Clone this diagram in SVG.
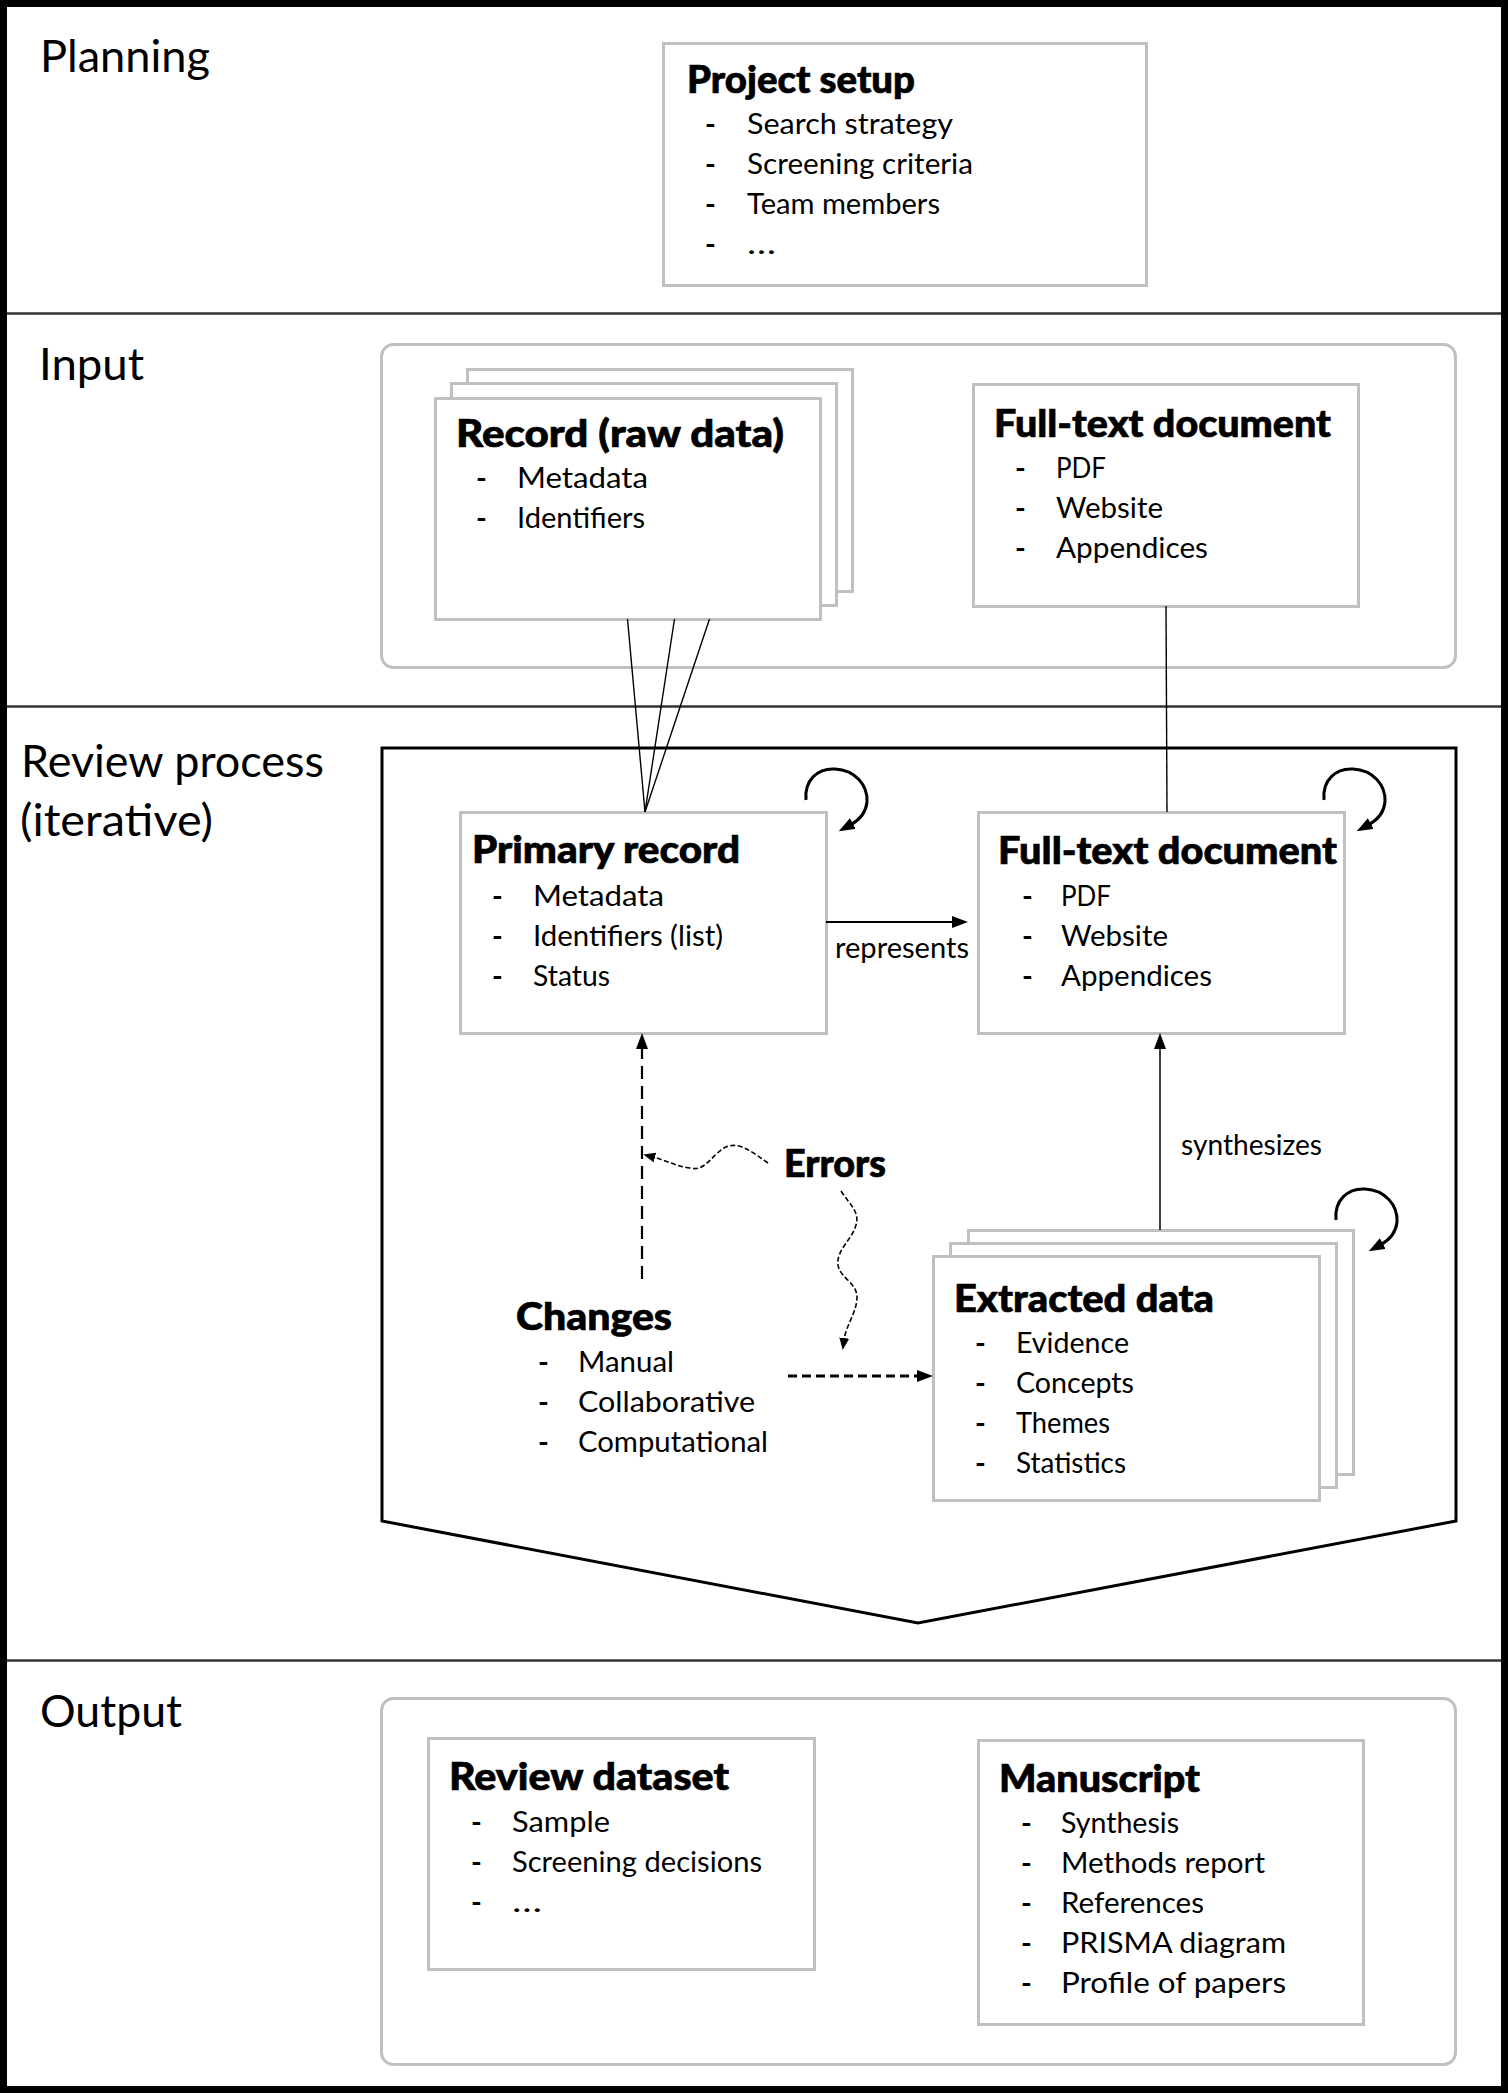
<svg xmlns="http://www.w3.org/2000/svg" width="1508" height="2093" viewBox="0 0 1508 2093">
<style>
text{font-family:Lato,"Liberation Sans",sans-serif;fill:#000}
.lbl{font-size:45px}
.ttl{font-size:38px;font-weight:900;stroke:#000;stroke-width:0.7}
.itm{font-size:29px}
.d{font-size:29px;font-weight:700}
.box{fill:#fff;stroke:#c0c0c0;stroke-width:3}
.grp{fill:none;stroke:#c0c0c0;stroke-width:3}
.sep{stroke:#333;stroke-width:2.5}
.ln{fill:none;stroke:#000;stroke-width:1.4}
.loop{fill:none;stroke:#000;stroke-width:3}
.sq{fill:none;stroke:#000;stroke-width:1.6;stroke-dasharray:5 2.5}
</style>
<defs>
<marker id="ah" markerUnits="userSpaceOnUse" markerWidth="18" markerHeight="14" refX="2" refY="6" orient="auto"><path d="M0,0 L16,6 L0,12 z" fill="#000"/></marker>
<marker id="ahs" markerUnits="userSpaceOnUse" markerWidth="14" markerHeight="12" refX="2" refY="5" orient="auto"><path d="M0,0 L12,5 L0,10 z" fill="#000"/></marker>
</defs>
<rect width="1508" height="2093" fill="#fff"/>
<g id="frame">
<rect x="3.5" y="3.5" width="1501" height="2086" fill="none" stroke="#000" stroke-width="7"/>
<line class="sep" x1="7" y1="313.5" x2="1501" y2="313.5"/>
<line class="sep" x1="7" y1="706.5" x2="1501" y2="706.5"/>
<line class="sep" x1="7" y1="1660.5" x2="1501" y2="1660.5"/>
</g>
<g id="labels">
<text class="lbl" x="40" y="72" textLength="170" lengthAdjust="spacingAndGlyphs">Planning</text>
<text class="lbl" x="39" y="380" textLength="105" lengthAdjust="spacingAndGlyphs">Input</text>
<text class="lbl" x="21" y="777" textLength="303" lengthAdjust="spacingAndGlyphs">Review process</text>
<text class="lbl" x="20" y="836" textLength="193" lengthAdjust="spacingAndGlyphs">(iterative)</text>
<text class="lbl" x="40" y="1727" textLength="142" lengthAdjust="spacingAndGlyphs">Output</text>
</g>
<g id="containers">
<rect class="grp" x="381.5" y="344.5" width="1074" height="323" rx="12"/>
<path d="M382,748 L1456,748 L1456,1521 L918,1623 L382,1521 Z" fill="none" stroke="#000" stroke-width="3"/>
<rect class="grp" x="381.5" y="1698.5" width="1074" height="366" rx="12"/>
</g>
<g id="project-setup">
<rect class="box" x="663.5" y="43.5" width="483" height="242"/>
<text class="ttl" x="687" y="93" textLength="228" lengthAdjust="spacingAndGlyphs">Project setup</text>
<text class="d" x="705" y="134">-</text><text class="itm" x="747" y="134" textLength="206" lengthAdjust="spacingAndGlyphs">Search strategy</text>
<text class="d" x="705" y="174">-</text><text class="itm" x="747" y="174" textLength="226" lengthAdjust="spacingAndGlyphs">Screening criteria</text>
<text class="d" x="705" y="214">-</text><text class="itm" x="747" y="214" textLength="193" lengthAdjust="spacingAndGlyphs">Team members</text>
<text class="d" x="705" y="254">-</text><text class="itm" x="747" y="254" textLength="29" lengthAdjust="spacingAndGlyphs">…</text>
</g>
<g id="record-raw">
<rect class="box" x="467.5" y="369.5" width="385" height="222"/>
<rect class="box" x="451.5" y="383.5" width="385" height="222"/>
<rect class="box" x="435.5" y="398.5" width="385" height="221"/>
<text class="ttl" x="456" y="447" textLength="328" lengthAdjust="spacingAndGlyphs">Record (raw data)</text>
<text class="d" x="476" y="488">-</text><text class="itm" x="517" y="488" textLength="131" lengthAdjust="spacingAndGlyphs">Metadata</text>
<text class="d" x="476" y="528">-</text><text class="itm" x="517" y="528" textLength="128" lengthAdjust="spacingAndGlyphs">Identifiers</text>
</g>
<g id="fulltext-input">
<rect class="box" x="973.5" y="384.5" width="385" height="222"/>
<text class="ttl" x="994" y="437" textLength="337" lengthAdjust="spacingAndGlyphs">Full-text document</text>
<text class="d" x="1015" y="478">-</text><text class="itm" x="1056" y="478" textLength="50" lengthAdjust="spacingAndGlyphs">PDF</text>
<text class="d" x="1015" y="518">-</text><text class="itm" x="1056" y="518" textLength="107" lengthAdjust="spacingAndGlyphs">Website</text>
<text class="d" x="1015" y="558">-</text><text class="itm" x="1056" y="558" textLength="152" lengthAdjust="spacingAndGlyphs">Appendices</text>
</g>
<g id="primary-record">
<rect class="box" x="460.5" y="812.5" width="366" height="221"/>
<text class="ttl" x="472" y="863" textLength="268" lengthAdjust="spacingAndGlyphs">Primary record</text>
<text class="d" x="492" y="906">-</text><text class="itm" x="533" y="906" textLength="131" lengthAdjust="spacingAndGlyphs">Metadata</text>
<text class="d" x="492" y="946">-</text><text class="itm" x="533" y="946" textLength="190" lengthAdjust="spacingAndGlyphs">Identifiers (list)</text>
<text class="d" x="492" y="986">-</text><text class="itm" x="533" y="986" textLength="77" lengthAdjust="spacingAndGlyphs">Status</text>
</g>
<g id="fulltext-review">
<rect class="box" x="978.5" y="812.5" width="366" height="221"/>
<text class="ttl" x="998" y="864" textLength="339" lengthAdjust="spacingAndGlyphs">Full-text document</text>
<text class="d" x="1022" y="906">-</text><text class="itm" x="1061" y="906" textLength="50" lengthAdjust="spacingAndGlyphs">PDF</text>
<text class="d" x="1022" y="946">-</text><text class="itm" x="1061" y="946" textLength="107" lengthAdjust="spacingAndGlyphs">Website</text>
<text class="d" x="1022" y="986">-</text><text class="itm" x="1061" y="986" textLength="151" lengthAdjust="spacingAndGlyphs">Appendices</text>
</g>
<g id="extracted-data">
<rect class="box" x="968.5" y="1230.5" width="385" height="244"/>
<rect class="box" x="950.5" y="1243.5" width="386" height="244"/>
<rect class="box" x="933.5" y="1256.5" width="386" height="244"/>
<text class="ttl" x="954" y="1312" textLength="260" lengthAdjust="spacingAndGlyphs">Extracted data</text>
<text class="d" x="975" y="1353">-</text><text class="itm" x="1016" y="1353" textLength="113" lengthAdjust="spacingAndGlyphs">Evidence</text>
<text class="d" x="975" y="1393">-</text><text class="itm" x="1016" y="1393" textLength="118" lengthAdjust="spacingAndGlyphs">Concepts</text>
<text class="d" x="975" y="1433">-</text><text class="itm" x="1016" y="1433" textLength="94" lengthAdjust="spacingAndGlyphs">Themes</text>
<text class="d" x="975" y="1473">-</text><text class="itm" x="1016" y="1473" textLength="110" lengthAdjust="spacingAndGlyphs">Statistics</text>
</g>
<g id="changes">
<text class="ttl" x="516" y="1330" textLength="156" lengthAdjust="spacingAndGlyphs">Changes</text>
<text class="d" x="538" y="1372">-</text><text class="itm" x="578" y="1372" textLength="96" lengthAdjust="spacingAndGlyphs">Manual</text>
<text class="d" x="538" y="1412">-</text><text class="itm" x="578" y="1412" textLength="177" lengthAdjust="spacingAndGlyphs">Collaborative</text>
<text class="d" x="538" y="1452">-</text><text class="itm" x="578" y="1452" textLength="190" lengthAdjust="spacingAndGlyphs">Computational</text>
</g>
<g id="errors">
<text class="ttl" x="784" y="1177" textLength="102" lengthAdjust="spacingAndGlyphs">Errors</text>
</g>
<g id="review-dataset">
<rect class="box" x="428.5" y="1738.5" width="386" height="231"/>
<text class="ttl" x="449" y="1790" textLength="280" lengthAdjust="spacingAndGlyphs">Review dataset</text>
<text class="d" x="471" y="1832">-</text><text class="itm" x="512" y="1832" textLength="98" lengthAdjust="spacingAndGlyphs">Sample</text>
<text class="d" x="471" y="1872">-</text><text class="itm" x="512" y="1872" textLength="250" lengthAdjust="spacingAndGlyphs">Screening decisions</text>
<text class="d" x="471" y="1912">-</text><text class="itm" x="512" y="1912" textLength="30" lengthAdjust="spacingAndGlyphs">…</text>
</g>
<g id="manuscript">
<rect class="box" x="978.5" y="1740.5" width="385" height="284"/>
<text class="ttl" x="999" y="1792" textLength="201" lengthAdjust="spacingAndGlyphs">Manuscript</text>
<text class="d" x="1021" y="1833">-</text><text class="itm" x="1061" y="1833" textLength="118" lengthAdjust="spacingAndGlyphs">Synthesis</text>
<text class="d" x="1021" y="1873">-</text><text class="itm" x="1061" y="1873" textLength="204" lengthAdjust="spacingAndGlyphs">Methods report</text>
<text class="d" x="1021" y="1913">-</text><text class="itm" x="1061" y="1913" textLength="143" lengthAdjust="spacingAndGlyphs">References</text>
<text class="d" x="1021" y="1953">-</text><text class="itm" x="1061" y="1953" textLength="225" lengthAdjust="spacingAndGlyphs">PRISMA diagram</text>
<text class="d" x="1021" y="1993">-</text><text class="itm" x="1061" y="1993" textLength="225" lengthAdjust="spacingAndGlyphs">Profile of papers</text>
</g>
<g id="connectors">
<line class="ln" x1="627.5" y1="619" x2="645" y2="812"/>
<line class="ln" x1="674.5" y1="619" x2="645" y2="812"/>
<line class="ln" x1="709.5" y1="619" x2="645" y2="812"/>
<line class="ln" x1="1166" y1="606" x2="1167" y2="812"/>
<line x1="826" y1="922" x2="954" y2="922" stroke="#000" stroke-width="2" marker-end="url(#ah)"/>
<text class="itm" x="835" y="958" textLength="134" lengthAdjust="spacingAndGlyphs">represents</text>
<line x1="1160" y1="1230" x2="1160" y2="1047" stroke="#000" stroke-width="1.5" marker-end="url(#ah)"/>
<text class="itm" x="1181" y="1155" textLength="141" lengthAdjust="spacingAndGlyphs">synthesizes</text>
<line x1="642" y1="1279" x2="642" y2="1047" stroke="#000" stroke-width="2.2" stroke-dasharray="13 7" marker-end="url(#ah)"/>
<line x1="788" y1="1376" x2="919" y2="1376" stroke="#000" stroke-width="2.8" stroke-dasharray="9 5" marker-end="url(#ah)"/>
<path class="sq" d="M768,1163 C752,1152 738,1140 724,1148 C712,1155 705,1172 690,1168 C675,1166 665,1160 653,1157" marker-end="url(#ahs)"/>
<path class="sq" d="M841,1191 C850,1205 860,1212 856,1225 C852,1240 836,1250 838,1265 C840,1278 857,1283 857,1297 C857,1312 846,1325 844,1340" marker-end="url(#ahs)"/>
<path class="loop" d="M806,800 C804,780 818,768 835,769 C855,770 868,785 867,802 C866,812 861,819 851,824.5" marker-end="url(#ah)"/>
<path class="loop" transform="translate(518,0)" d="M806,800 C804,780 818,768 835,769 C855,770 868,785 867,802 C866,812 861,819 851,824.5" marker-end="url(#ah)"/>
<path class="loop" transform="translate(530,420)" d="M806,800 C804,780 818,768 835,769 C855,770 868,785 867,802 C866,812 861,819 851,824.5" marker-end="url(#ah)"/>
</g>
</svg>
